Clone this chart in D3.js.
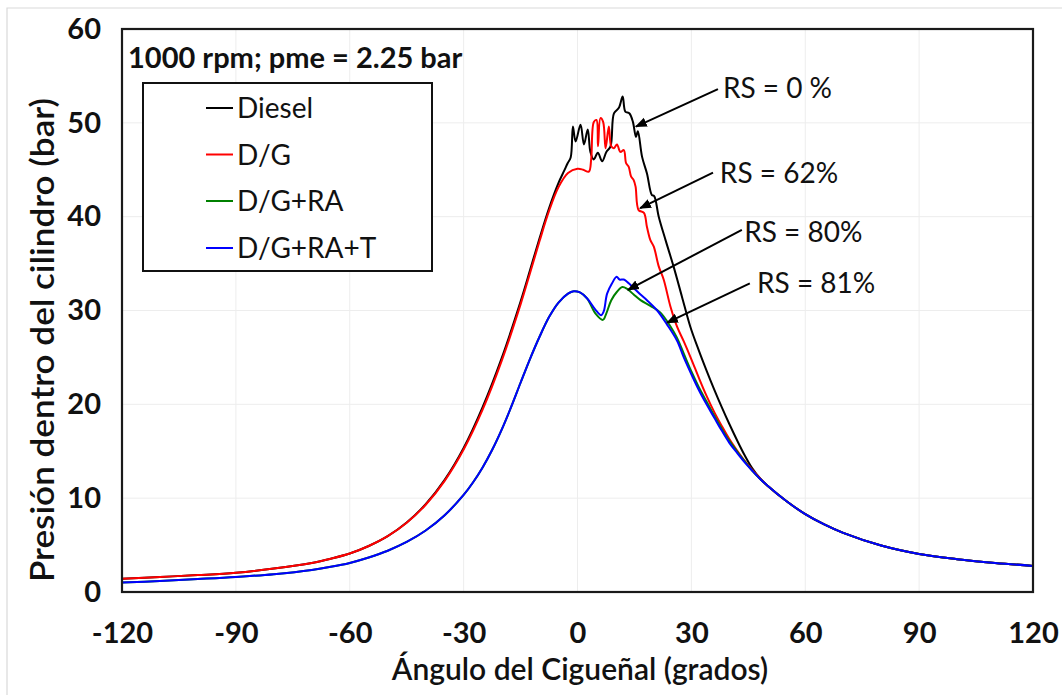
<!DOCTYPE html>
<html>
<head>
<meta charset="utf-8">
<script src="https://cdn.jsdelivr.net/npm/d3@7"></script>
<style>
  html, body { margin: 0; padding: 0; background: #fff; }
  svg { display: block; }
  text { font-family: Lato, "Open Sans", sans-serif; fill: #111; }
</style>
</head>
<body>
<svg id="chart" width="1062" height="695"></svg>
<script>
// ---------- DATA ----------
const xTicks = [-120, -90, -60, -30, 0, 30, 60, 90, 120];
const yTicks = [0, 10, 20, 30, 40, 50, 60];
const seriesNames = ["Diesel", "D/G", "D/G+RA", "D/G+RA+T"];
const seriesColors = ["#000000", "#ff0000", "#008000", "#0000ff"];

const tailCommon = [[50,11.35],[55,9.7],[60,8.3],[65,7.2],[70,6.3],[80,4.95],[90,4.05],[100,3.5],[110,3.1],[120,2.78]];

const dieselData = [[-120,1.4],[-110,1.6],[-100,1.8],[-90,2.05],[-80,2.5],[-70,3.1],[-65,3.55],[-60,4.1],[-55,4.9],[-50,5.95],[-45,7.4],[-40,9.35],[-35,11.95],[-30,15.35],[-25,19.7],[-20,24.9],[-15,30.95],[-12.5,34.3],[-10,37.7],[-7.5,40.9],[-5,43.6],[-3.5,44.9],[-2.6,45.7],[-1.8,46.3],[-1.2,49.6],[-0.5,48.0],[0.8,49.8],[1.7,47.7],[2.7,49.3],[3.4,46.9],[4.3,46.1],[5.35,46.8],[6.5,45.9],[7.6,46.9],[8.7,47.5],[9.6,51.0],[10.9,51.6],[11.9,52.8],[12.6,51.2],[13.7,51.0],[14.6,50.1],[15.4,48.5],[15.9,49.1],[17.0,46.4],[18.3,44.6],[19.6,42.3],[20.2,42.2],[21.4,40.0],[23.2,37.5],[25.3,34.7],[27.5,31.5],[29.7,28.3],[32,25.7],[34,23.6],[36,21.6],[38,19.7],[40,17.9],[42,16.2],[44,14.6],[46,13.2],[48,12.15]].concat(tailCommon);

const dgData = [[-120,1.4],[-110,1.6],[-100,1.8],[-90,2.05],[-80,2.5],[-70,3.1],[-65,3.55],[-60,4.1],[-55,4.9],[-50,5.95],[-45,7.38],[-40,9.3],[-35,11.85],[-30,15.18],[-25,19.43],[-20,24.6],[-15,30.65],[-12.5,34.0],[-10,37.4],[-7.5,40.6],[-5,43.15],[-2.5,44.65],[0,45.1],[1.5,45.0],[3,44.8],[3.6,46.1],[4.3,50.1],[5.0,50.3],[5.4,47.5],[6.05,50.5],[6.75,50.1],[7.4,47.3],[8.25,49.6],[8.9,47.5],[9.6,47.3],[10.4,47.7],[11.3,46.9],[12.2,47.1],[12.8,45.7],[13.5,45.3],[14.1,44.3],[14.8,43.9],[15.3,43.2],[16.1,40.7],[17.5,40.4],[18.3,38.9],[19.2,37.5],[20.1,36.8],[21.4,34.7],[22.7,33.3],[24.5,30.4],[26.2,28.3],[28,26.7],[30,24.8],[32,22.8],[34,20.9],[36,19.2],[38,17.7],[40,16.3],[42,15.1],[44,14.0],[46,13.05],[48,12.15]].concat(tailCommon);

const dgraData = [[-120,1.0],[-110,1.18],[-100,1.38],[-90,1.6],[-80,1.9],[-70,2.35],[-65,2.68],[-60,3.1],[-55,3.68],[-50,4.4],[-45,5.33],[-40,6.55],[-35,8.18],[-30,10.35],[-27.5,11.7],[-25,13.28],[-22.5,15.13],[-20,17.28],[-17.5,19.7],[-15,22.3],[-12.5,24.85],[-10,27.2],[-7.5,29.3],[-5,30.85],[-2.5,31.8],[-1,32.05],[0.5,31.95],[2.5,31.3],[4.7,29.7],[6.7,29.0],[7.6,29.7],[8.9,31.1],[10.4,32.0],[11.8,32.5],[13.1,32.3],[14.8,31.7],[16.6,31.1],[19.2,30.5],[21.8,29.8],[24.5,28.3],[26.2,27.1],[28,25.4],[30,23.5],[32,21.8],[34,20.3],[36,18.8],[38,17.4],[40,16.1],[42,15.0],[44,13.95],[46,12.95],[48,12.1]].concat(tailCommon);

const dgratData = [[-120,1.0],[-110,1.18],[-100,1.38],[-90,1.6],[-80,1.9],[-70,2.35],[-65,2.68],[-60,3.1],[-55,3.68],[-50,4.4],[-45,5.33],[-40,6.55],[-35,8.18],[-30,10.35],[-27.5,11.7],[-25,13.28],[-22.5,15.13],[-20,17.28],[-17.5,19.7],[-15,22.3],[-12.5,24.85],[-10,27.2],[-7.5,29.3],[-5,30.85],[-2.5,31.8],[-1,32.05],[0.5,31.95],[2.5,31.3],[4.7,30.1],[6.2,29.5],[6.9,29.9],[7.8,31.8],[9.1,32.9],[10.3,33.6],[11.1,33.3],[12.2,33.3],[13.5,32.9],[14.8,32.4],[16.6,31.7],[18.3,31.1],[21.0,30.0],[23.6,28.5],[26.2,26.8],[28,25.0],[30,23.2],[32,21.5],[34,20.0],[36,18.6],[38,17.2],[40,15.9],[42,14.85],[44,13.85],[46,12.95],[48,12.1]].concat(tailCommon);

const allSeries = [dieselData, dgData, dgraData, dgratData];

const titleText = "1000 rpm; pme = 2.25 bar";
const xTitle = "Ángulo del Cigueñal (grados)";
const yTitle = "Presión dentro del cilindro (bar)";

// annotations: label, text anchor (angle, bar), arrow start, arrow tip
const annLabels = ["RS = 0 %", "RS = 62%", "RS = 80%", "RS = 81%"];
const annTextPos = [[38.3, 53.7], [37.5, 44.7], [43.9, 38.4], [47.3, 32.9]];
const annFrom = [[37.0, 53.6], [35.7, 44.7], [43.3, 38.6], [45.4, 32.9]];
const annTo = [[15.4, 49.6], [16.5, 40.9], [13.3, 32.2], [23.6, 28.7]];

// ---------- LAYOUT ----------
const svg = d3.select("#chart");
const plot = { left: 122, right: 1033, top: 29, bottom: 592 };
const x = d3.scaleLinear().domain([-120, 120]).range([plot.left, plot.right]);
const y = d3.scaleLinear().domain([0, 60]).range([plot.bottom, plot.top]);

svg.append("rect").attr("width", 1062).attr("height", 695).attr("fill", "#fff");
// outer chart border (faint)
svg.append("path").attr("d", "M7,700 V8 H1070").attr("fill", "none").attr("stroke", "#d9d9d9").attr("stroke-width", 1.2);

// gridlines (very faint)
const grid = svg.append("g");
grid.selectAll("line.h").data(yTicks.slice(1, -1)).join("line")
  .attr("x1", plot.left).attr("x2", plot.right)
  .attr("y1", d => y(d)).attr("y2", d => y(d))
  .attr("stroke", "#ededed").attr("stroke-width", 1);
grid.selectAll("line.v").data(xTicks.slice(1, -1)).join("line")
  .attr("y1", plot.top).attr("y2", plot.bottom)
  .attr("x1", d => x(d)).attr("x2", d => x(d))
  .attr("stroke", "#ededed").attr("stroke-width", 1);

// series
const line = d3.line().x(d => x(d[0])).y(d => y(d[1])).curve(d3.curveCatmullRom.alpha(0.5));
svg.append("g").selectAll("path").data(allSeries).join("path")
  .attr("d", line)
  .attr("fill", "none")
  .attr("stroke", (d, i) => seriesColors[i])
  .attr("stroke-width", 2)
  .attr("stroke-linejoin", "round");

// plot frame
svg.append("rect")
  .attr("x", plot.left).attr("y", plot.top)
  .attr("width", plot.right - plot.left).attr("height", plot.bottom - plot.top)
  .attr("fill", "none").attr("stroke", "#1a1a1a").attr("stroke-width", 2.2);

// axes
const yAxis = svg.append("g").attr("transform", `translate(${plot.left},0)`)
  .call(d3.axisLeft(y).tickValues(yTicks).tickSize(0).tickPadding(21).tickFormat(d => String(d)));
const xAxis = svg.append("g").attr("transform", `translate(0,${plot.bottom})`)
  .call(d3.axisBottom(x).tickValues(xTicks).tickSize(0).tickPadding(30).tickFormat(d => String(d)));
[yAxis, xAxis].forEach(a => {
  a.select(".domain").remove();
  a.selectAll("text").attr("font-family", "Lato, sans-serif").attr("font-size", 29)
    .attr("font-weight", "bold").attr("fill", "#111");
});

// axis titles
svg.append("text").attr("x", 580).attr("y", 680).attr("text-anchor", "middle")
  .attr("font-size", 30).attr("font-weight", 600).text(xTitle);
svg.append("text").attr("transform", "translate(54,340) rotate(-90)").attr("text-anchor", "middle")
  .attr("font-size", 33).attr("font-weight", 600)
  .attr("textLength", 484).attr("lengthAdjust", "spacingAndGlyphs").text(yTitle);

// chart title inside plot
svg.append("text").attr("x", 128).attr("y", 68).attr("font-size", 29).attr("font-weight", "bold").text(titleText);

// legend
const lg = svg.append("g");
lg.append("rect").attr("x", 143).attr("y", 83).attr("width", 289).attr("height", 188)
  .attr("fill", "#fff").attr("stroke", "#111").attr("stroke-width", 2);
const rowY = [108, 154.5, 201, 248];
seriesNames.forEach((n, i) => {
  lg.append("line").attr("x1", 206).attr("x2", 233).attr("y1", rowY[i]).attr("y2", rowY[i])
    .attr("stroke", seriesColors[i]).attr("stroke-width", 2);
  lg.append("text").attr("x", 237).attr("y", rowY[i]).attr("dy", "0.36em")
    .attr("font-size", 28).text(n);
});

// annotations with arrows
const defs = svg.append("defs");
defs.append("marker").attr("id", "arrow").attr("viewBox", "0 0 10 10")
  .attr("refX", 9).attr("refY", 5).attr("markerWidth", 6).attr("markerHeight", 6)
  .attr("markerUnits", "strokeWidth").attr("orient", "auto")
  .append("path").attr("d", "M0,1 L10,5 L0,9 Z").attr("fill", "#000");

const ann = svg.append("g");
annLabels.forEach((t, i) => {
  ann.append("line")
    .attr("x1", x(annFrom[i][0])).attr("y1", y(annFrom[i][1]))
    .attr("x2", x(annTo[i][0])).attr("y2", y(annTo[i][1]))
    .attr("stroke", "#000").attr("stroke-width", 2).attr("marker-end", "url(#arrow)");
  ann.append("text").attr("x", x(annTextPos[i][0])).attr("y", y(annTextPos[i][1]))
    .attr("dy", "0.36em").attr("font-size", 28).text(t);
});
</script>
</body>
</html>
